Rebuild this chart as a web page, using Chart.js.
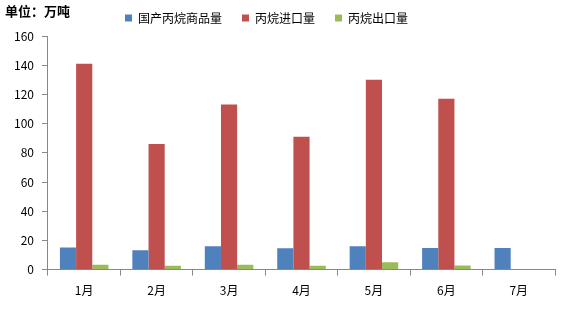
<!DOCTYPE html>
<html><head><meta charset="utf-8">
<script src="https://cdn.jsdelivr.net/npm/chart.js@4/dist/chart.umd.min.js"></script>
<style>
html,body{margin:0;padding:0;background:#fff;}
#wrap{position:relative;width:561px;height:316px;}
#unit{position:absolute;left:5px;top:1px;font:bold 13px "Noto Sans CJK SC",sans-serif;color:#000;}
</style></head>
<body>
<div id="wrap"><div id="unit">单位：万吨</div><canvas id="c" width="561" height="316"></canvas></div>
<script>
const categories = ["1月","2月","3月","4月","5月","6月","7月"];
const domestic = [15.2, 13.2, 16.0, 14.6, 16.0, 14.8, 14.8];
const imports = [141, 86, 113, 91, 130, 117, null];
const exports = [3.4, 2.7, 3.4, 2.7, 5.0, 2.8, null];
const yTicks = [0,20,40,60,80,100,120,140,160];
const FONT = '"Noto Sans CJK SC", sans-serif';
const legendTweak = {
  id: 'legendTweak',
  beforeInit(chart) {
    const lg = chart.legend;
    const orig = lg.fit;
    lg.fit = function() { orig.call(this); this.height = 36; };
  },
  afterLayout(chart) {
    const lg = chart.legend;
    lg.left -= 14; lg.right -= 14; lg.top -= 8;
  }
};
new Chart(document.getElementById('c'), {
  type: 'bar',
  data: {
    labels: categories,
    datasets: [
      {label: '国产丙烷商品量', data: domestic, backgroundColor: '#4F81BD'},
      {label: '丙烷进口量', data: imports, backgroundColor: '#C0504D'},
      {label: '丙烷出口量', data: exports, backgroundColor: '#9BBB59'}
    ]
  },
  plugins: [legendTweak],
  options: {
    responsive: false,
    animation: false,
    layout: {padding: {left: 6, right: 6, top: 0, bottom: 10}},
    datasets: {bar: {categoryPercentage: 0.67, barPercentage: 1.0}},
    plugins: {
      legend: {
        position: 'top',
        labels: {boxWidth: 7, boxHeight: 7, padding: 20, color: '#000', font: {family: FONT, size: 12}},
      },
      tooltip: {enabled: false}
    },
    scales: {
      x: {
        grid: {display: true, drawOnChartArea: false, tickLength: 6, color: '#888', offset: true},
        border: {color: '#888'},
        ticks: {color: '#000', font: {family: FONT, size: 12}, padding: 8}
      },
      y: {
        min: 0, max: 160,
        afterBuildTicks: (ax) => { ax.ticks = yTicks.map(v => ({value: v})); },
        grid: {display: true, drawOnChartArea: false, tickLength: 6, color: '#888'},
        border: {color: '#888'},
        ticks: {color: '#000', font: {family: FONT, size: 12}, padding: 8}
      }
    }
  }
});
</script>
</body></html>
